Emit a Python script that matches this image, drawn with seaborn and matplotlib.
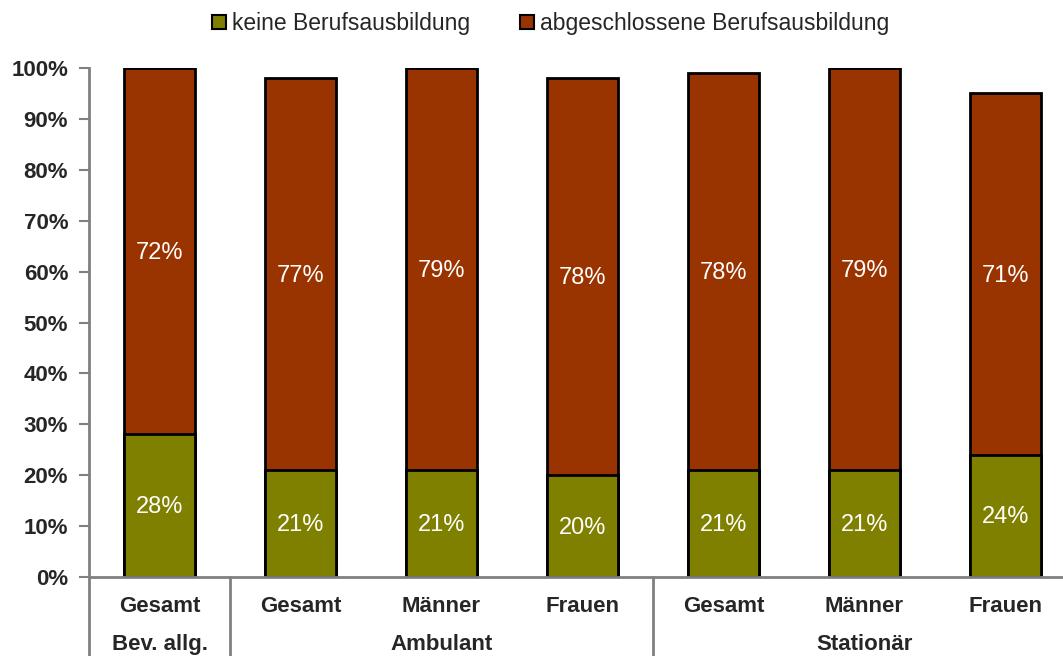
import matplotlib
matplotlib.use("Agg")
import matplotlib.pyplot as plt
import matplotlib.transforms as mtransforms
from matplotlib.patches import Patch
import seaborn as sns
import pandas as pd

sns.set_style("white")
plt.rcParams['font.family'] = ['Liberation Sans', 'DejaVu Sans']

categories = ["Gesamt", "Gesamt", "Männer", "Frauen", "Gesamt", "Männer", "Frauen"]
groups = ["Bev. allg.", "Ambulant", "Stationär"]
group_spans = [(0, 0), (1, 3), (4, 6)]
keine = [28, 21, 21, 20, 21, 21, 24]
abgeschlossen = [72, 77, 79, 78, 78, 79, 71]
series_names = ["keine Berufsausbildung", "abgeschlossene Berufsausbildung"]
colors = ["#808000", "#993300"]
yticks = [0, 10, 20, 30, 40, 50, 60, 70, 80, 90, 100]

ids = [f"c{i}" for i in range(len(categories))]
df = pd.DataFrame({"id": ids, "keine": keine, "abg": abgeschlossen})
df["total"] = df["keine"] + df["abg"]

fig = plt.figure(figsize=(10.63, 6.56), dpi=100)
ax = fig.add_axes([89/1063, 79/656, 987/1063, 509/656])

sns.barplot(data=df, x="id", y="total", color=colors[1], saturation=1,
            edgecolor="black", linewidth=2, width=0.51, ax=ax, order=ids)
sns.barplot(data=df, x="id", y="keine", color=colors[0], saturation=1,
            edgecolor="black", linewidth=2, width=0.51, ax=ax, order=ids)

for i, (k, a) in enumerate(zip(keine, abgeschlossen)):
    ax.text(i, k / 2 - 0.3, f"{k}%", ha="center", va="center", color="white", fontsize=17)
    ax.text(i, k + a / 2 - 0.3, f"{a}%", ha="center", va="center", color="white", fontsize=17)

ax.set_xlim(-0.5, 6.5)
ax.set_ylim(0, 100)
ax.set_yticks(yticks)
ax.set_yticklabels([f"{t}%" for t in yticks], fontsize=16, fontweight="bold")
ax.set_xticks([])
ax.set_xlabel("")
ax.set_ylabel("")
ax.tick_params(axis="y", direction="out", length=7, width=1.5, color="#808080", pad=8, left=True)
for s in ["top", "right"]:
    ax.spines[s].set_visible(False)
for s in ["left", "bottom"]:
    ax.spines[s].set_color("#808080")
    ax.spines[s].set_linewidth(2)

trans = mtransforms.blended_transform_factory(ax.transData, ax.transAxes)
for xsep in [-0.5, 0.5, 3.5]:
    ax.plot([xsep, xsep], [0, -0.2], transform=trans, color="#808080", lw=2, clip_on=False)

for i, c in enumerate(categories):
    ax.text(i, -0.058, c, transform=trans, ha="center", va="center", fontsize=16, fontweight="bold")
for g, (s, e) in zip(groups, group_spans):
    ax.text((s + e) / 2, -0.133, g, transform=trans, ha="center", va="center", fontsize=16, fontweight="bold")

handles = [Patch(facecolor=colors[0], edgecolor="black", lw=1.5),
           Patch(facecolor=colors[1], edgecolor="black", lw=1.5)]
fig.legend(handles, series_names, loc="center", bbox_to_anchor=(0.518, 0.964), ncol=2,
           frameon=False, fontsize=16.5, handlelength=0.6, handleheight=0.6,
           handletextpad=0.25, columnspacing=2.2)

fig.savefig("out.png", dpi=100)
